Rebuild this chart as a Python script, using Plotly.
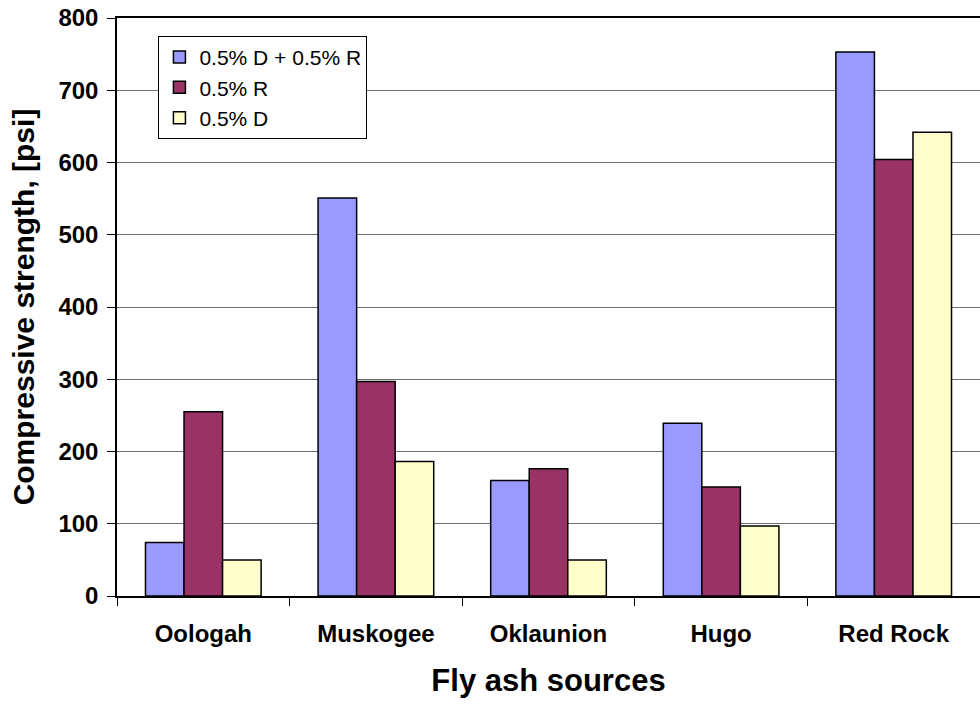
import plotly.graph_objects as go

sources = ["Oologah", "Muskogee", "Oklaunion", "Hugo", "Red Rock"]
dr_mix = [74, 551, 160, 239, 753]      # 0.5% D + 0.5% R
r_only = [255, 297, 176, 151, 604]     # 0.5% R
d_only = [50, 186, 50, 97, 642]        # 0.5% D

series = [
    ("0.5% D + 0.5% R", dr_mix, "#9999FF"),
    ("0.5% R", r_only, "#993366"),
    ("0.5% D", d_only, "#FFFFCC"),
]

fig = go.Figure()
for name, vals, color in series:
    fig.add_trace(go.Bar(
        x=sources, y=vals, name=name,
        marker=dict(color=color, line=dict(color="#000000", width=1.5)),
    ))

font_family = "Liberation Sans, Arial, sans-serif"
fig.update_layout(
    width=980, height=704,
    margin=dict(l=117, r=0, t=18, b=108),
    paper_bgcolor="white", plot_bgcolor="white",
    barmode="group", bargap=0.33, bargroupgap=0,
    font=dict(family=font_family, color="black"),
    showlegend=True,
    legend=dict(
        x=0.048, y=0.969, xanchor="left", yanchor="top",
        bgcolor="white", bordercolor="#000000", borderwidth=1,
        font=dict(size=21, family=font_family),
        itemwidth=30, tracegroupgap=0,
    ),
    xaxis=dict(
        showline=True, linecolor="black", linewidth=1.5, mirror=True,
        ticks="outside", tickson="boundaries", ticklen=8, tickcolor="black",
        ticklabelstandoff=15,
        tickfont=dict(size=24, family=font_family, weight="bold"),
        title=dict(text="Fly ash sources", font=dict(size=31, family=font_family, weight="bold"), standoff=24),
    ),
    yaxis=dict(
        range=[0, 800], dtick=100,
        showline=True, linecolor="black", linewidth=1.5,
        ticks="outside", ticklen=8, tickcolor="black",
        ticklabelstandoff=4,
        showgrid=True, gridcolor="#707070", gridwidth=1,
        tickfont=dict(size=24, family=font_family, weight="bold"),
        title=dict(text="Compressive strength, [psi]", font=dict(size=30, family=font_family, weight="bold"), standoff=15),
    ),
)

fig.write_html("out.html")
